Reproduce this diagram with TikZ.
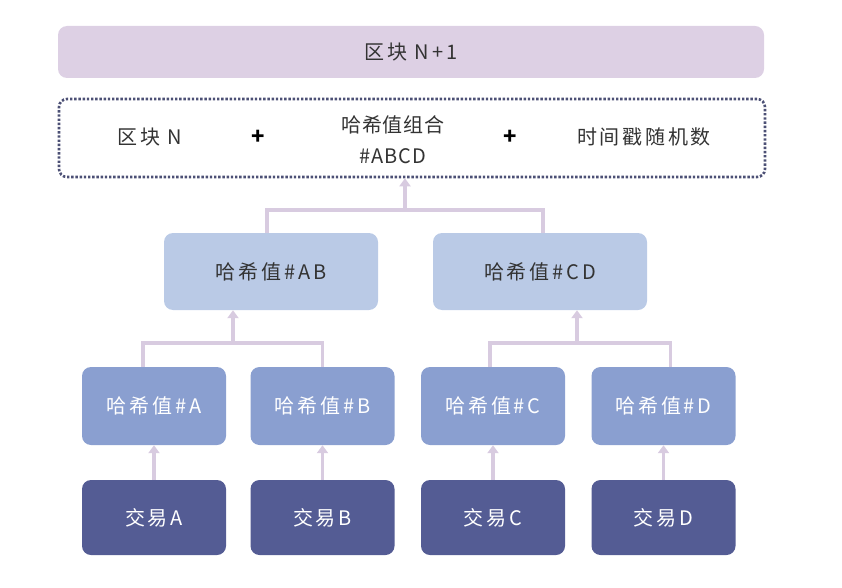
\documentclass[tikz,border=0pt]{standalone}
\usepackage{fontspec}
\setmainfont{Noto Sans CJK SC}[LetterSpace=14]
\usetikzlibrary{arrows.meta,calc}
\definecolor{barpurple}{HTML}{DDD0E4}
\definecolor{connpurple}{HTML}{D8CBE0}
\definecolor{dotblue}{HTML}{4C5075}
\definecolor{midblue}{HTML}{BACAE6}
\definecolor{leafblue}{HTML}{8A9FD0}
\definecolor{darkblue}{HTML}{545C94}
\definecolor{txtgrey}{HTML}{333333}
\begin{document}
\begin{tikzpicture}[x=1pt,y=-1pt,
  boxbase/.style={rounded corners=9pt,inner sep=0pt,font=\fontsize{20}{22}\selectfont},
  topbar/.style={boxbase,fill=barpurple,minimum width=706pt,minimum height=52pt,text=txtgrey},
  dotbox/.style={rounded corners=8pt,draw=dotblue,line width=2.6pt,dash pattern=on 2.4pt off 1.8pt,minimum width=706pt,minimum height=78pt},
  inlabel/.style={font=\fontsize{20}{30}\selectfont,text=txtgrey,align=center,inner sep=0pt},
  plus/.style={font=\fontsize{22}{22}\selectfont\bfseries,text=black,inner sep=0pt},
  midbox/.style={boxbase,fill=midblue,minimum width=214pt,minimum height=77pt,text=txtgrey},
  leafbox/.style={boxbase,fill=leafblue,minimum width=144pt,minimum height=78pt,text=white},
  txbox/.style={boxbase,fill=darkblue,minimum width=144pt,minimum height=75pt,text=white},
  conn/.style={draw=connpurple,line width=3.8pt},
  arr/.style={conn,-{Triangle[width=11pt,length=8pt]}}
]
\useasboundingbox (0,0) rectangle (842,588);
\node[topbar] (top) at (411,52) {区块 N+1};
\node[dotbox] (dots) at (412,138) {};
\node[inlabel] (lbN) at (150,137) {区块 N};
\node[plus] (p1) at (258,137) {+};
\node[inlabel,font=\fontsize{20}{31}\selectfont\addfontfeatures{LetterSpace=4}] (lbHash) at (393,140) {哈希值组合\\\#ABCD};
\node[plus] (p2) at (510,137) {+};
\node[inlabel] (lbTime) at (644,137) {时间戳随机数};

\node[midbox] (AB) at (271,271.5) {哈希值\#AB};
\node[midbox] (CD) at (540,271.5) {哈希值\#CD};

\node[leafbox] (hA) at (154,406) {哈希值\#A};
\node[leafbox] (hB) at (322.5,406) {哈希值\#B};
\node[leafbox] (hC) at (493,406) {哈希值\#C};
\node[leafbox] (hD) at (663.5,406) {哈希值\#D};

\node[txbox] (tA) at (154,517.5) {交易A};
\node[txbox] (tB) at (322.5,517.5) {交易B};
\node[txbox] (tC) at (493,517.5) {交易C};
\node[txbox] (tD) at (663.5,517.5) {交易D};

% transaction -> leaf hash
\foreach \n in {A,B,C,D}{
  \draw[arr] (t\n.north) -- (h\n.south);
}
% leaves -> AB / CD
\coordinate (jAB) at (233,343);
\draw[conn] ([xshift=-11pt]hA.north) |- (jAB) -| (hB.north);
\draw[arr] (jAB) -- (jAB |- AB.south);
\coordinate (jCD) at (577,343);
\draw[conn] ([xshift=-3pt]hC.north) |- (jCD) -| ([xshift=7pt]hD.north);
\draw[arr] (jCD) -- (jCD |- CD.south);
% AB/CD -> combined
\coordinate (jTop) at (405,210);
\draw[conn] ([xshift=-4pt]AB.north) |- (jTop) -| ([xshift=3pt]CD.north);
\draw[arr] (jTop) -- (jTop |- dots.south);
\end{tikzpicture}
\end{document}
